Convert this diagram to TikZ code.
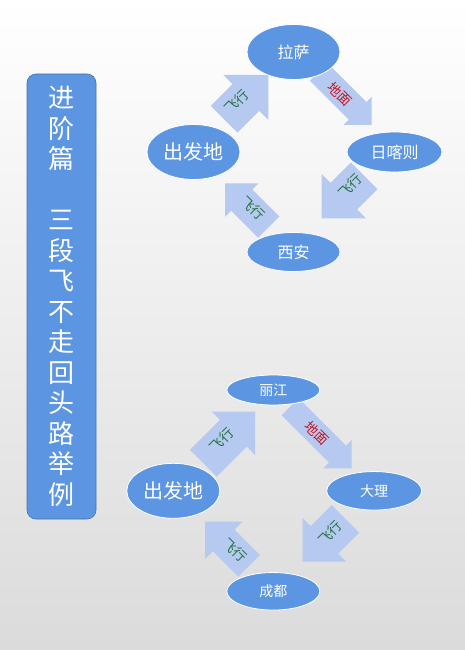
\documentclass[tikz,border=0pt]{standalone}
\usepackage{fontspec}
\newfontfamily\cjk{Noto Sans CJK SC}
\usetikzlibrary{shapes.geometric}
\definecolor{nodeblue}{RGB}{92,150,226}
\definecolor{boxborder}{RGB}{70,114,170}
\definecolor{arrowfill}{RGB}{182,201,240}
\definecolor{flygreen}{RGB}{36,115,64}
\definecolor{groundred}{RGB}{200,20,30}
\definecolor{bgbot}{RGB}{219,219,219}
\newcommand\blockarr[7]{%
  \fill[arrowfill, shift={(#1,#2)}, rotate=#3]
    (0pt,0pt) -- (-#5pt,#6pt) -- (-#5pt,#7pt) -- (-#4pt,#7pt) --
    (-#4pt,-#7pt) -- (-#5pt,-#7pt) -- (-#5pt,-#6pt) -- cycle;}
\tikzset{
  place/.style={ellipse, fill=nodeblue, draw=white, line width=0.8pt, inner sep=0pt, text=white, font=\cjk\fontsize{#1}{#1}\selectfont},
  fly/.style={text=flygreen, font=\cjk\fontsize{13.5}{13.5}\selectfont, inner sep=0pt},
  ground/.style={text=groundred, font=\cjk\fontsize{13.5}{13.5}\selectfont, inner sep=0pt},
}
\begin{document}
\begin{tikzpicture}[x=1pt,y=-1pt]
\useasboundingbox (0,0) rectangle (465,650);
\shade[top color=white, bottom color=bgbot] (0,0) rectangle (465,650);

% title box
\node[draw=boxborder, line width=0.6pt, fill=nodeblue, rounded corners=9pt,
      minimum width=69pt, minimum height=445pt, inner sep=0pt] (title) at (61.5,296.5) {};
\node[text=white, align=center, inner sep=0pt,
      font=\cjk\fontsize{26}{30.5}\selectfont] (titletext) at (61.5,296.5)
  {进\\阶\\篇\\[30.5pt]三\\段\\飞\\不\\走\\回\\头\\路\\举\\例};

% top diagram arrows
\blockarr{268.3}{75}{45}{62.5}{31.8}{31.8}{18.9}
\blockarr{371.7}{125}{-45}{75}{20}{20}{12.5}
\blockarr{321.7}{218.3}{-135}{60}{31.2}{31.2}{18.9}
\blockarr{225}{183.3}{135}{62}{23.7}{23.7}{15}

% bottom diagram arrows
\blockarr{255}{411.7}{45}{73}{30.6}{30.6}{18.9}
\blockarr{351.7}{468.3}{-45}{87}{20}{20}{12}
\blockarr{302.7}{561.7}{-135}{60.6}{30.9}{30.9}{19.5}
\blockarr{205}{521.7}{135}{62.4}{26.5}{26.5}{15.3}

% top diagram nodes
\node[place=16, minimum width=93pt, minimum height=55pt] (lasa) at (293.5,52) {拉萨};
\node[place=20, minimum width=93pt, minimum height=55pt] (start1) at (193.5,152) {出发地};
\node[place=16, minimum width=95pt, minimum height=40pt] (rkz) at (394.5,152) {日喀则};
\node[place=16, minimum width=93pt, minimum height=39pt] (xian) at (293.5,252) {西安};

% bottom diagram nodes
\node[place=14, minimum width=93pt, minimum height=30pt] (lijiang) at (273.3,390) {丽江};
\node[place=20, minimum width=93pt, minimum height=55pt] (start2) at (173.3,490.8) {出发地};
\node[place=14, minimum width=95pt, minimum height=38.5pt] (dali) at (374.2,490.8) {大理};
\node[place=14, minimum width=93pt, minimum height=37.5pt] (chengdu) at (273.3,591.3) {成都};

% arrow labels
\node[fly, rotate=45] (l1) at (236.7,101.7) {飞行};
\node[ground, rotate=-45] (l2) at (340,94) {地面};
\node[fly, rotate=45] (l3) at (350,186) {飞行};
\node[fly, rotate=-45] (l4) at (253,208.3) {飞行};
\node[fly, rotate=45] (l5) at (221.7,440) {飞行};
\node[ground, rotate=-45] (l6) at (316.7,433.3) {地面};
\node[fly, rotate=45] (l7) at (330,533.3) {飞行};
\node[fly, rotate=-45] (l8) at (235,550) {飞行};
\end{tikzpicture}
\end{document}
